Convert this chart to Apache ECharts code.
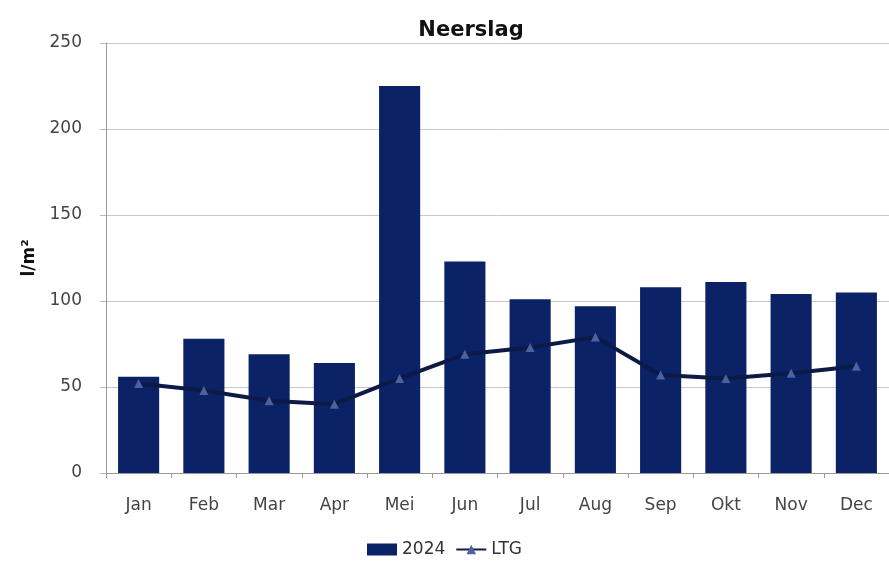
<!DOCTYPE html>
<html><head><meta charset="utf-8">
<script src="https://cdn.jsdelivr.net/npm/echarts@6/dist/echarts.min.js"></script>
<style>html,body{margin:0;padding:0;background:#fff}#c{width:889px;height:563px}</style>
</head><body><div id="c"></div>
<script>
const categories = ['Jan','Feb','Mar','Apr','Mei','Jun','Jul','Aug','Sep','Okt','Nov','Dec'];
const values2024 = [56, 78, 69, 64, 225, 123, 101, 97, 108, 111, 104, 105];
const valuesLTG = [52, 48, 42, 40, 55, 69, 73, 79, 57, 55, 58, 62];
const yTicks = [0, 50, 100, 150, 200, 250];

const chart = echarts.init(document.getElementById('c'));
const font = 'DejaVu Sans, Liberation Sans, sans-serif';
chart.setOption({
  animation: false,
  title: { text: 'Neerslag', left: 466, top: 15, textAlign: 'center',
    textStyle: { fontFamily: font, fontSize: 21, fontWeight: 'bold', color: '#111' } },
  legend: { bottom: 0, left: 'center', itemGap: 10, itemWidth: 30, itemHeight: 12,
    textStyle: { fontFamily: font, fontSize: 17, color: '#333' },
    data: [{ name: '2024', icon: 'rect' }, { name: 'LTG' }] },
  grid: { left: 106, right: 0, top: 43, bottom: 90 },
  xAxis: { type: 'category', data: categories,
    axisLine: { lineStyle: { color: '#999' } },
    axisTick: { show: true, length: 5, lineStyle: { color: '#999' } },
    axisLabel: { fontFamily: font, fontSize: 17, color: '#444', margin: 24 } },
  yAxis: { type: 'value', min: 0, max: 250, interval: 50,
    name: 'l/m²', nameLocation: 'middle', nameGap: 68, nameRotate: 90,
    nameTextStyle: { fontFamily: font, fontSize: 17, fontWeight: 'bold', color: '#111' },
    axisLine: { show: true, lineStyle: { color: '#999' } },
    axisTick: { show: true, length: 6, lineStyle: { color: '#bbb' } },
    splitLine: { lineStyle: { color: '#c8c8c8' } },
    axisLabel: { fontFamily: font, fontSize: 17, color: '#444', margin: 24,
      formatter: v => yTicks.includes(v) ? String(v) : '' } },
  series: [
    { name: '2024', type: 'bar', data: values2024, barWidth: '63%',
      itemStyle: { color: '#0b2366' } },
    { name: 'LTG', type: 'line', data: valuesLTG, symbol: 'triangle', symbolSize: 9,
      lineStyle: { color: '#0d1a45', width: 4 },
      itemStyle: { color: '#4a62a0' } }
  ]
});
</script></body></html>
